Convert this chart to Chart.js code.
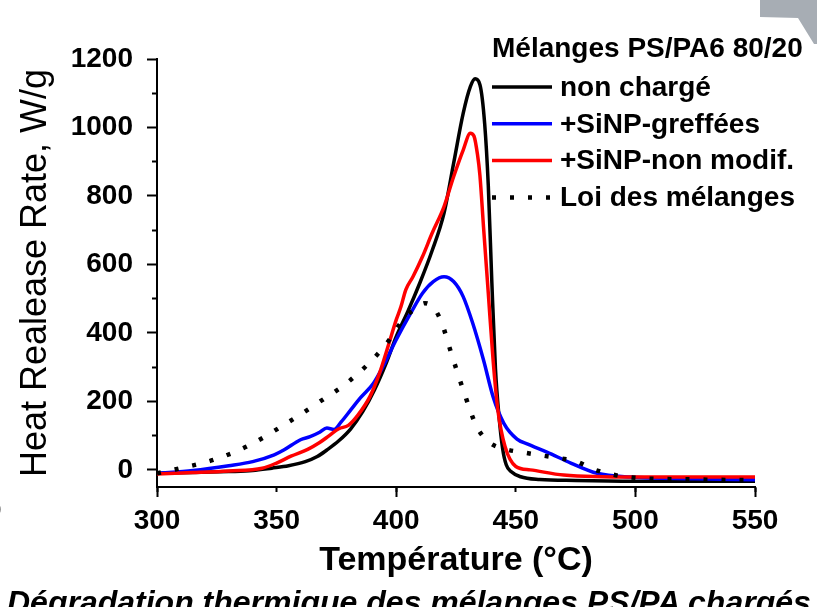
<!DOCTYPE html>
<html>
<head>
<meta charset="utf-8">
<script src="https://cdn.jsdelivr.net/npm/chart.js@4.4.0/dist/chart.umd.min.js"></script>
<style>
  body { margin: 0; background: #fff; }
  #wrap { position: relative; width: 817px; height: 607px; overflow: hidden; background: #fff; }
  #corner { position: absolute; left: 0; top: 0; width: 817px; height: 607px; background: #a7adb4;
    clip-path: polygon(760px 0, 817px 0, 817px 44px, 814px 44px, 798px 18px, 760px 17px); }
  #caption { position: absolute; left: 7px; top: 587px; font: italic bold 32px "Liberation Sans", Arial, sans-serif;
    line-height: 30px; white-space: nowrap; color: #000; }
  #frag { position: absolute; left: -5px; top: 497px; font: 20px "Liberation Sans", Arial, sans-serif; }
</style>
</head>
<body>
<div id="wrap">
  <canvas id="chart" width="817" height="607"></canvas>
  <div id="corner"></div>
  <div id="frag">)</div>
  <div id="caption">Dégradation thermique des mélanges PS/PA chargés</div>
</div>
<script>
// Heat release rate (W/g) vs temperature, PS/PA6 80/20 blends

const legendTitle = 'Mélanges PS/PA6 80/20';
const seriesNames = ['non chargé', '+SiNP-greffées', '+SiNP-non modif.', 'Loi des mélanges'];

// non chargé (black)
const blackT = [300, 315, 330, 340, 348, 355, 362, 367, 371, 376, 381, 386, 391, 396, 400, 405, 410, 415, 420, 424, 428, 431, 433, 435, 437, 438.5, 440, 441.5, 443, 444.5, 446, 448, 452, 460, 475, 500, 525, 550];
const blackV = [-10, -8, -5, -2, 5, 12, 24, 39, 58, 85, 120, 170, 235, 315, 389, 465, 548, 640, 750, 895, 1041, 1119, 1142, 1125, 1010, 830, 545, 295, 155, 62, 15, -5, -20, -28, -31, -33, -33, -33];

// +SiNP-greffées (blue)
const blueT = [300, 315, 330, 340, 349, 353, 360, 364, 368, 371, 374, 377, 381, 385, 390.5, 394.5, 400, 406, 411, 415.5, 420, 424, 428, 432, 436.5, 440.5, 445, 450.5, 455, 463, 473, 484, 498, 525, 550];
const blueV = [-10, -2, 12, 24, 44, 58, 88, 97, 110, 122, 118, 140, 175, 210, 253, 302, 380, 457, 516, 550, 564, 550, 506, 428, 321, 214, 136, 90, 75, 52, 20, -10, -21, -26, -29];

// +SiNP-non modif. (red)
const redT = [300, 315, 330, 344, 350, 356, 363, 368, 372, 376, 380, 384, 389, 393, 397, 400, 402, 404, 407, 411, 415, 420, 424, 428, 431, 432.5, 434, 435, 436.5, 438.5, 440.5, 442.5, 445.5, 450, 456, 470, 500, 525, 550];
const redV = [-12, -8, -3, 5, 20, 40, 60, 80, 100, 120, 130, 160, 214, 282, 370, 438, 477, 526, 564, 623, 691, 769, 856, 934, 983, 975, 920, 860, 710, 516, 321, 175, 68, 10, 0, -15, -21, -21, -21];

// Loi des mélanges (dotted)
const mixT = [300, 308, 323.5, 337.5, 353, 368, 381, 395, 404, 408, 412, 416, 419, 423, 428, 433.7, 439, 446, 453, 461, 468.5, 475.5, 482.4, 490, 498, 525, 550];
const mixV = [-10, 2, 29, 68, 131, 199, 263, 360, 448, 470, 487, 470, 430, 341, 234, 126, 80, 60, 51, 42, 34, 24, 2, -13, -22, -28, -30];

const xTicks = [300, 350, 400, 450, 500, 550];
const yTicks = [0, 200, 400, 600, 800, 1000, 1200];

function pairs(t, v) {
  return t.map((x, i) => ({ x: x, y: v[i] }));
}

const mainFont = '"Liberation Sans", Arial, sans-serif';

// legend drawn inside the plot, top right
const legendBox = {
  id: 'legendBox',
  afterDatasetsDraw(chart) {
    const ctx = chart.ctx;
    ctx.save();
    ctx.font = 'bold 28px ' + mainFont;
    ctx.fillStyle = '#000';
    ctx.textBaseline = 'middle';
    ctx.fillText(legendTitle, 492, 49);
    chart.data.datasets.forEach((ds, i) => {
      const y = 87 + i * 36.8;
      ctx.beginPath();
      ctx.strokeStyle = ds.borderColor;
      ctx.lineWidth = ds.borderWidth;
      ctx.setLineDash(ds.borderDash || []);
      ctx.moveTo(492, y);
      ctx.lineTo(552, y);
      ctx.stroke();
      ctx.setLineDash([]);
      ctx.fillText(ds.label, 560, y + 1);
    });
    ctx.restore();
  }
};

const ctx = document.getElementById('chart');

new Chart(ctx, {
  type: 'line',
  data: {
    datasets: [
      { label: seriesNames[0], data: pairs(blackT, blackV), borderColor: '#000000', borderWidth: 3.5, order: 3 },
      { label: seriesNames[1], data: pairs(blueT, blueV), borderColor: '#0000ff', borderWidth: 3.5, order: 2 },
      { label: seriesNames[2], data: pairs(redT, redV), borderColor: '#ff0000', borderWidth: 3.5, order: 1 },
      { label: seriesNames[3], data: pairs(mixT, mixV), borderColor: '#000000', borderWidth: 4.5, borderDash: [4, 14], order: 0 }
    ]
  },
  options: {
    responsive: false,
    animation: false,
    devicePixelRatio: 1,
    layout: { padding: { top: 59, right: 62, left: 0, bottom: 0 } },
    elements: {
      point: { radius: 0 },
      line: { cubicInterpolationMode: 'monotone', fill: false }
    },
    plugins: {
      legend: { display: false },
      tooltip: { enabled: false }
    },
    scales: {
      x: {
        type: 'linear', min: 300, max: 550, weight: 1,
        afterBuildTicks: (s) => { s.ticks = xTicks.map(v => ({ value: v })); },
        afterFit: (s) => { s.height = 120; },
        grid: { drawOnChartArea: false, drawTicks: true, tickLength: 5, tickWidth: 2, tickColor: '#000' },
        border: { display: true, color: '#000', width: 2 },
        ticks: { color: '#000', padding: 12, maxRotation: 0, callback: v => String(v),
          font: { family: mainFont, size: 28, weight: 'bold' } },
        title: { display: true, text: 'Température (°C)', color: '#000', padding: { top: 0, bottom: 26 },
          font: { family: mainFont, size: 34, weight: 'bold' } }
      },
      xMajor: {
        type: 'linear', axis: 'x', position: 'bottom', min: 300, max: 550, weight: 0,
        ticks: { display: false, stepSize: 100 },
        afterFit: (s) => { s.height = 0; },
        grid: { drawOnChartArea: false, drawTicks: true, tickLength: 10, tickWidth: 2, tickColor: '#000' },
        border: { display: false }
      },
      y: {
        type: 'linear', min: -50, max: 1200, weight: 1,
        afterBuildTicks: (s) => { s.ticks = yTicks.map(v => ({ value: v })); },
        afterFit: (s) => { s.width = 157; },
        grid: { drawOnChartArea: false, drawTicks: true, tickLength: 10, tickWidth: 2, tickColor: '#000' },
        border: { display: true, color: '#000', width: 2 },
        ticks: { color: '#000', padding: 14, callback: v => String(v),
          font: { family: mainFont, size: 28, weight: 'bold' } },
        title: { display: true, text: 'Heat Realease Rate, W/g', color: '#000', padding: { top: 14, bottom: 0 },
          font: { family: mainFont, size: 36, weight: 'normal' } }
      },
      yMinor: {
        type: 'linear', axis: 'y', position: 'left', min: -50, max: 1200, weight: 0,
        afterBuildTicks: (s) => { s.ticks = [100, 300, 500, 700, 900, 1100].map(v => ({ value: v })); },
        ticks: { display: false },
        afterFit: (s) => { s.width = 0; },
        grid: { drawOnChartArea: false, drawTicks: true, tickLength: 5, tickWidth: 2, tickColor: '#000' },
        border: { display: false }
      }
    }
  },
  plugins: [legendBox]
});
</script>
</body>
</html>
